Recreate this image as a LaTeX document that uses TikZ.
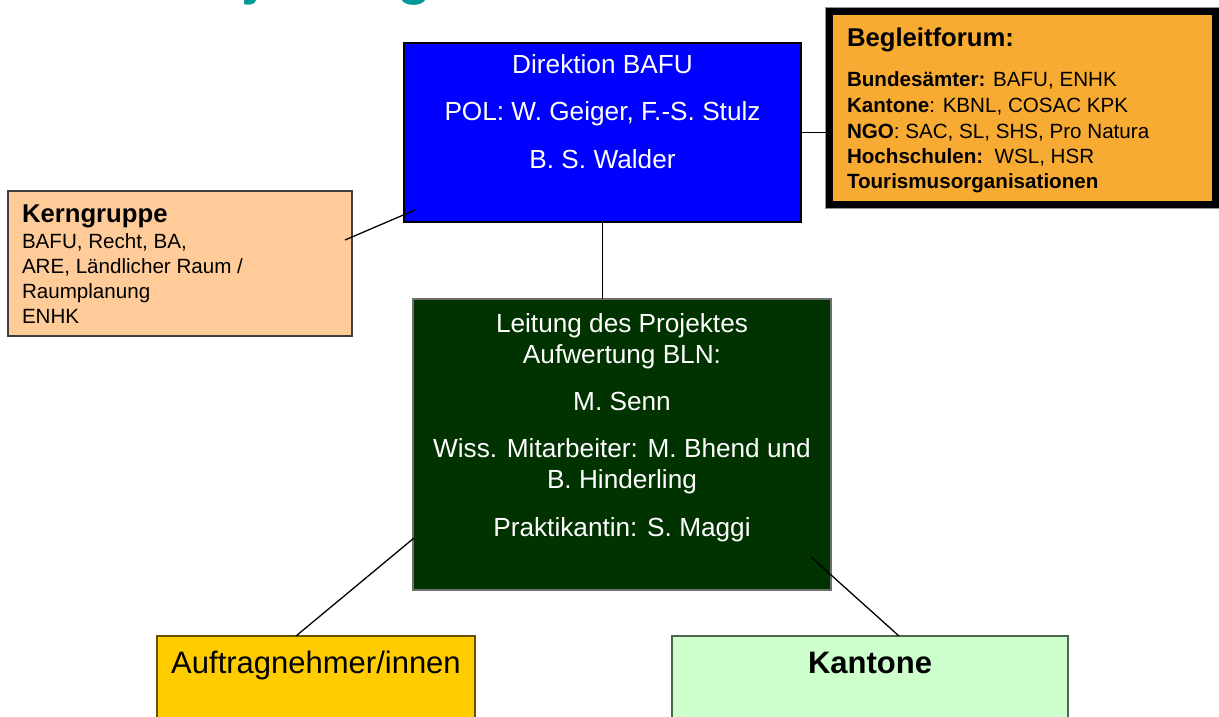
\documentclass[tikz,border=0pt]{standalone}
\usepackage{fontspec}
\setmainfont{Liberation Sans}
\usetikzlibrary{calc}
\definecolor{bafublue}{RGB}{0,0,255}
\definecolor{leigreen}{RGB}{0,51,0}
\definecolor{peach}{RGB}{255,204,153}
\definecolor{begorange}{RGB}{247,171,51}
\definecolor{gold}{RGB}{255,204,0}
\definecolor{lightgreen}{RGB}{204,255,204}
\definecolor{titleteal}{RGB}{0,153,153}
\definecolor{audborder}{RGB}{102,82,0}
\definecolor{kanborder}{RGB}{76,102,76}
\newcommand{\fs}[1]{\fontsize{#1}{#1}\selectfont}
\begin{document}
\begin{tikzpicture}[x=1pt,y=-1pt,
  box/.style={draw=black, line width=1.5pt, inner sep=0pt, outer sep=0pt, rectangle},
  conn/.style={draw=black, line width=1.3pt},
  ctxt/.style={anchor=base, inner sep=0pt, outer sep=0pt},
  ltxt/.style={anchor=base west, inner sep=0pt, outer sep=0pt},
  wtxt/.style={ctxt, text=white, font=\fs{26.2}}]
\useasboundingbox (0,0) rectangle (1219,717);
% title (cut off at top)
\node[ltxt, text=titleteal, font=\bfseries\fs{56}] (title) at (152,-6) {Projektorganisation};
% boxes
\node[box, fill=bafublue, minimum width=397pt, minimum height=179pt] (dir) at (602.5,132.5) {};
\draw[line width=1pt, draw={rgb,255:red,150;green,150;blue,150}] (825.5,7.5) rectangle (1219.5,208.5);
\node[box, fill=begorange, line width=7pt, minimum width=386pt, minimum height=193pt] (beg) at (1022.5,108) {};
\node[box, fill=peach, draw={rgb,255:red,64;green,64;blue,64}, minimum width=344pt, minimum height=145pt] (kern) at (180,263.5) {};
\node[box, fill=leigreen, draw={rgb,255:red,110;green,110;blue,110}, minimum width=418pt, minimum height=291pt] (lei) at (622,444.5) {};
\node[box, fill=gold, draw=audborder, minimum width=318pt, minimum height=104pt] (auf) at (316,688) {};
\node[box, fill=lightgreen, draw=kanborder, minimum width=396pt, minimum height=104pt] (kan) at (870,688) {};
% connectors
\draw[conn] (dir.east) -- (dir.east -| beg.west);
\draw[conn] ($(kern.east)+(-7,-23.5)$) -- ($(dir.south west)+(11,-12)$);
\draw[conn] (dir.south) -- (dir.south |- lei.north);
\draw[conn] ($(lei.west)+(1,93.5)$) -- ($(auf.north)+(-20,0)$);
\draw[conn] ($(lei.south east)+(-20,-33)$) -- ($(kan.north)+(29,0)$);
% Direktion text
\node[wtxt] (d1) at (602.5,74) {Direktion BAFU};
\node[wtxt] (d2) at (602.5,121) {POL: W. Geiger, F.-S. Stulz};
\node[wtxt] (d3) at (602.5,168) {B. S. Walder};
% Begleitforum text
\node[ltxt, font=\bfseries\fs{25.7}] (b0) at (847,47) {Begleitforum:};
\node[ltxt, font=\fs{20.6}] (b1) at (847,87) {\textbf{Bundesämter:} BAFU, ENHK};
\node[ltxt, font=\fs{20.6}] (b2) at (847,113) {\textbf{Kantone}: KBNL, COSAC KPK};
\node[ltxt, font=\fs{20.6}] (b3) at (847,138) {\textbf{NGO}: SAC, SL, SHS, Pro Natura};
\node[ltxt, font=\fs{20.6}] (b4) at (847,163) {\textbf{Hochschulen:}\ \ WSL, HSR};
\node[ltxt, font=\fs{20.6}] (b5) at (847,188) {\textbf{Tourismusorganisationen}};
% Kerngruppe text
\node[ltxt, font=\bfseries\fs{25.7}] (k0) at (22,222) {Kerngruppe};
\node[ltxt, font=\fs{20.6}] (k1) at (22,248) {BAFU, Recht, BA,};
\node[ltxt, font=\fs{20.6}] (k2) at (22,273) {ARE, Ländlicher Raum /};
\node[ltxt, font=\fs{20.6}] (k3) at (22,298) {Raumplanung};
\node[ltxt, font=\fs{20.6}] (k4) at (22,323) {ENHK};
% Leitung text
\node[wtxt] (l1) at (622,332) {Leitung des Projektes};
\node[wtxt] (l2) at (622,363) {Aufwertung BLN:};
\node[wtxt] (l3) at (622,410) {M. Senn};
\node[wtxt] (l4) at (622,457) {Wiss. Mitarbeiter: M. Bhend und};
\node[wtxt] (l5) at (622,488) {B. Hinderling};
\node[wtxt] (l6) at (622,536) {Praktikantin: S. Maggi};
% bottom boxes text
\node[ctxt, font=\fs{31}] (a1) at (316,673) {Auftragnehmer/innen};
\node[ctxt, font=\bfseries\fs{31}] (c1) at (870,673) {Kantone};
\end{tikzpicture}
\end{document}
